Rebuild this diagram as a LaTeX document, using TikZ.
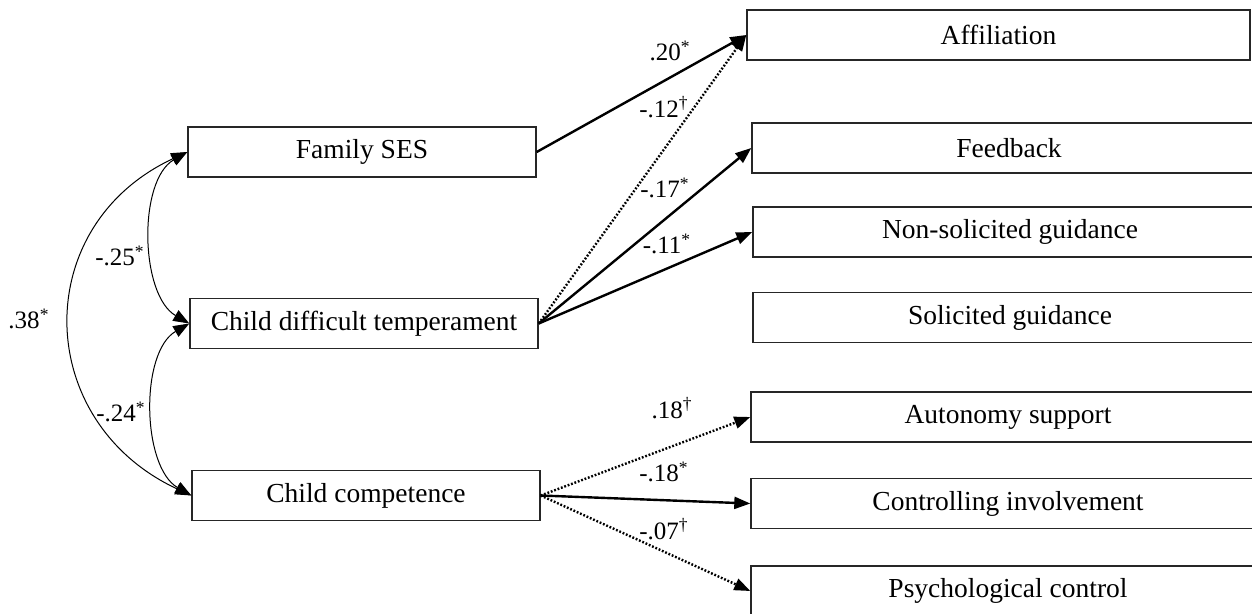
\documentclass[tikz,border=0pt]{standalone}
\usepackage{fontspec}
\setmainfont{Liberation Serif}
\usetikzlibrary{arrows.meta}

\begin{document}
\begin{tikzpicture}[x=0.5pt, y=-0.5pt, >={Triangle[length=8pt,width=6pt]},
  font=\fontsize{13.75}{16}\selectfont]
  \tikzset{
    box/.style={
      draw=black!85,
      line width=0.7pt,
      minimum width=174pt,
      minimum height=25pt,
      inner sep=0pt,
      text centered},
    wbox/.style={
      box,
      minimum width=257pt},
    lbl/.style={
      inner sep=0pt,
      font=\fontsize{12.5}{14}\selectfont},
    solidarr/.style={
      ->,
      line width=1.2pt},
    dotarr/.style={
      ->,
      line width=1.2pt,
      dash pattern=on 0.9pt off 0.9pt},
    corr/.style={
      <->,
      line width=0.5pt}}

  \clip (0,0) rectangle (1252,614);

  \node[box] (ses) at (362,152) {Family SES};
  \node[box] (temp) at (364,323.5) {Child difficult temperament};
  \node[box] (comp) at (366,495.5) {Child competence};

  \node[box, minimum width=251.5pt] (aff) at (998.5,35) {Affiliation};
  \node[wbox] (fb) at (1009,148) {Feedback};
  \node[wbox] (nsg) at (1010,232) {Non-solicited guidance};
  \node[wbox] (sg) at (1010,317.5) {Solicited guidance};
  \node[wbox] (aut) at (1008,417) {Autonomy support};
  \node[wbox] (ctl) at (1008,503.5) {Controlling involvement};
  \node[wbox] (psy) at (1008,591) {Psychological control};

  % correlations
  \path[corr] (ses.west) edge[out=210, in=150, looseness=0.85] (temp.west);
  \path[corr] (temp.west) edge[out=210, in=150, looseness=0.85] (comp.west);
  \path[corr] (ses.west) edge[out=205, in=155, looseness=1.3] (comp.west);

  % paths to parenting
  \path[solidarr] (ses.east) edge (aff.west);
  \path[dotarr] (temp.east) edge (aff.west);
  \path[solidarr] (temp.east) edge (fb.west);
  \path[solidarr] (temp.east) edge (nsg.west);
  \path[dotarr] (comp.east) edge (aut.west);
  \path[solidarr] (comp.east) edge (ctl.west);
  \path[dotarr] (comp.east) edge (psy.west);

  \node[lbl] (l20) at (670,51) {.20\textsuperscript{*}};
  \node[lbl] (l12) at (664,107) {-.12\textsuperscript{†}};
  \node[lbl] (l17) at (665,188) {-.17\textsuperscript{*}};
  \node[lbl] (l11) at (667,244) {-.11\textsuperscript{*}};
  \node[lbl] (l18a) at (672,408) {.18\textsuperscript{†}};
  \node[lbl] (l18b) at (664,472) {-.18\textsuperscript{*}};
  \node[lbl] (l07) at (664,529) {-.07\textsuperscript{†}};
  \node[lbl] (l25) at (120,256) {-.25\textsuperscript{*}};
  \node[lbl] (l24) at (121,412) {-.24\textsuperscript{*}};
  \node[lbl] (l38) at (29,319) {.38\textsuperscript{*}};

\end{tikzpicture}
\end{document}
